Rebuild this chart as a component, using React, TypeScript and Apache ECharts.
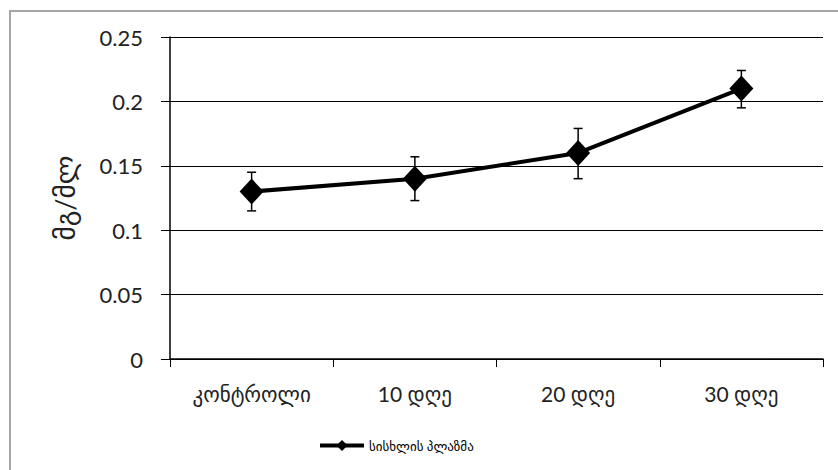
import React, { useEffect, useRef } from "react";
import * as echarts from "echarts";

const categories = ["კონტროლი", "10 დღე", "20 დღე", "30 დღე"];
const values = [0.13, 0.14, 0.16, 0.21];
const errLow = [0.115, 0.123, 0.14, 0.195];
const errHigh = [0.145, 0.157, 0.179, 0.224];
const seriesName = "სისხლის პლაზმა";
const yTitle = "მგ/მლ";

const FONT = "Lato, 'DejaVu Sans', sans-serif";

export default function App() {
  const ref = useRef<HTMLDivElement>(null);
  useEffect(() => {
    document.body.style.margin = "0";
    const chart = echarts.init(ref.current!, null, { renderer: "svg" });
    const errData = categories.map((_, i) => [i, errLow[i], errHigh[i]]);
    chart.setOption({
      animation: false,
      backgroundColor: "#fff",
      textStyle: { fontFamily: FONT },
      graphic: [
        {
          type: "rect",
          shape: { x: 10, y: 11, width: 900, height: 520 },
          style: { fill: "none", stroke: "#a6a6a6", lineWidth: 2 },
          z: -10,
        },
      ],
      grid: { left: 170, top: 37, right: 15, bottom: 111 },
      legend: {
        data: [seriesName],
        left: 313,
        top: 434,
        itemWidth: 44,
        itemHeight: 14,
        itemGap: 4,
        lineStyle: { width: 4, color: "#000" },
        textStyle: { fontSize: 13, color: "#000", fontFamily: FONT },
      },
      xAxis: {
        type: "category",
        data: categories,
        boundaryGap: true,
        axisLine: { lineStyle: { color: "#000", width: 1.5 } },
        axisTick: { show: true, length: 8, lineStyle: { color: "#000" } },
        axisLabel: { color: "#222", fontSize: 21, margin: 24, fontFamily: FONT },
      },
      yAxis: {
        type: "value",
        min: 0,
        max: 0.25,
        interval: 0.05,
        name: yTitle,
        nameLocation: "middle",
        nameGap: 92,
        nameRotate: 90,
        nameTextStyle: { fontSize: 27, color: "#222", fontFamily: FONT },
        axisLine: { show: true, lineStyle: { color: "#000", width: 1.5 } },
        axisTick: { show: true, length: 9, lineStyle: { color: "#000" } },
        axisLabel: {
          color: "#222",
          fontSize: 22,
          margin: 27,
          fontFamily: FONT,
          formatter: (v: number) => String(+v.toFixed(2)),
        },
        splitLine: { show: true, lineStyle: { color: "#000", width: 1.2 } },
      },
      series: [
        {
          name: "err",
          type: "custom",
          data: errData,
          z: 3,
          renderItem: (params: any, api: any) => {
            const x = api.value(0);
            const lo = api.coord([x, api.value(1)]);
            const hi = api.coord([x, api.value(2)]);
            const cw = 4.5;
            const st = { stroke: "#000", lineWidth: 1.5 };
            return {
              type: "group",
              children: [
                { type: "line", shape: { x1: lo[0], y1: lo[1], x2: hi[0], y2: hi[1] }, style: st },
                { type: "line", shape: { x1: lo[0] - cw, y1: lo[1], x2: lo[0] + cw, y2: lo[1] }, style: st },
                { type: "line", shape: { x1: hi[0] - cw, y1: hi[1], x2: hi[0] + cw, y2: hi[1] }, style: st },
              ],
            };
          },
        },
        {
          name: seriesName,
          type: "line",
          data: values,
          z: 4,
          symbol: "diamond",
          symbolSize: [24, 26],
          itemStyle: { color: "#000" },
          lineStyle: { color: "#000", width: 4 },
        },
      ],
    });
    return () => chart.dispose();
  }, []);
  return <div ref={ref} style={{ width: 838, height: 470 }} />;
}
